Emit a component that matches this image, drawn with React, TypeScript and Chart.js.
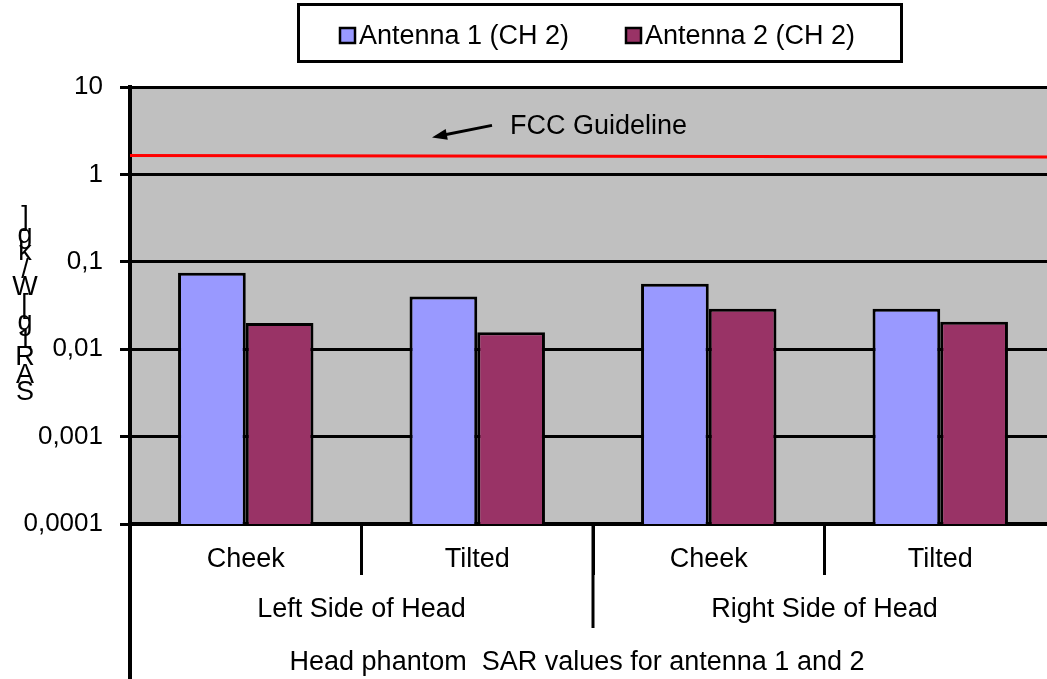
import React, { useEffect, useRef } from "react";
import { Chart, registerables } from "chart.js";

Chart.register(...registerables);

// ---- data ----
const categories = ["Cheek", "Tilted", "Cheek", "Tilted"];
const groups = ["Left Side of Head", "Right Side of Head"];
const groupSpans = [[0, 1], [2, 3]];
const seriesNames = ["Antenna 1 (CH 2)", "Antenna 2 (CH 2)"];
const antenna1 = [0.075, 0.04, 0.056, 0.029];
const antenna2 = [0.02, 0.0156, 0.029, 0.0206];
const yTicks = [0.0001, 0.001, 0.01, 0.1, 1, 10];
const yTickLabels = ["0,0001", "0,001", "0,01", "0,1", "1", "10"];
const fccLine = [1.65, 1.58];
const fccLabel = "FCC Guideline";
const xTitle = "Head phantom  SAR values for antenna 1 and 2";
const yTitleChars = ["S", "A", "R", "1", "g", "[", "W", "/", "k", "g", "]"];

const FONT = '"Liberation Sans", Arial, Helvetica, sans-serif';
const COLORS = ["#9999FF", "#993366"];

export default function App() {
  const ref = useRef<HTMLCanvasElement>(null);

  useEffect(() => {
    const canvas = ref.current!;

    const plotBg = {
      id: "plotBg",
      beforeDraw(chart: any) {
        const { ctx, chartArea: a } = chart;
        ctx.save();
        ctx.fillStyle = "#C0C0C0";
        ctx.fillRect(a.left, a.top, a.right - a.left, a.bottom - a.top);
        ctx.restore();
      },
    };

    const decor = {
      id: "decor",
      afterDatasetsDraw(chart: any) {
        const { ctx, chartArea: a } = chart;
        const ys = chart.scales.y;
        ctx.save();
        ctx.beginPath();
        ctx.rect(a.left, a.top, a.right - a.left, a.bottom - a.top);
        ctx.clip();
        ctx.strokeStyle = "#FF0000";
        ctx.lineWidth = 3;
        ctx.beginPath();
        ctx.moveTo(a.left, ys.getPixelForValue(fccLine[0]));
        ctx.lineTo(a.right, ys.getPixelForValue(fccLine[1]));
        ctx.stroke();
        ctx.restore();
      },
      afterDraw(chart: any) {
        const { ctx, chartArea: a } = chart;
        const xs = chart.scales.x;
        const ys = chart.scales.y;
        ctx.save();
        ctx.fillStyle = "#000";
        ctx.strokeStyle = "#000";

        // long group separator
        const sep = (xs.getPixelForValue(1) + xs.getPixelForValue(2)) / 2;
        ctx.lineWidth = 3;
        ctx.beginPath();
        ctx.moveTo(sep, a.bottom);
        ctx.lineTo(sep, a.bottom + 104);
        ctx.stroke();

        // left axis extension
        ctx.lineWidth = 4;
        ctx.beginPath();
        ctx.moveTo(a.left, a.bottom);
        ctx.lineTo(a.left, chart.height);
        ctx.stroke();

        // group labels
        ctx.font = `27px ${FONT}`;
        ctx.textAlign = "center";
        ctx.textBaseline = "middle";
        groups.forEach((g, i) => {
          const [s, e] = groupSpans[i];
          const cx = (xs.getPixelForValue(s) + xs.getPixelForValue(e)) / 2;
          ctx.fillText(g, cx, a.bottom + 86);
        });

        // x title
        ctx.fillText(xTitle, a.left + 447, a.bottom + 139);

        // y title (stacked upright characters)
        yTitleChars.forEach((c, i) => {
          ctx.fillText(c, 25, 393 - i * 17.5);
        });

        // FCC annotation
        const yTxt = ys.getPixelForValue(fccLine[0]) - 29;
        ctx.textAlign = "left";
        ctx.fillText(fccLabel, a.left + 380, yTxt);
        const tx = a.left + 362, ty = yTxt - 1;
        const hx = a.left + 302, hy = yTxt + 11;
        ctx.lineWidth = 3;
        ctx.beginPath();
        ctx.moveTo(tx, ty);
        ctx.lineTo(hx + 8, hy - 1.6);
        ctx.stroke();
        const ang = Math.atan2(hy - ty, hx - tx);
        ctx.beginPath();
        ctx.moveTo(hx, hy);
        ctx.lineTo(hx - 16 * Math.cos(ang - 0.35), hy - 16 * Math.sin(ang - 0.35));
        ctx.lineTo(hx - 16 * Math.cos(ang + 0.35), hy - 16 * Math.sin(ang + 0.35));
        ctx.closePath();
        ctx.fill();

        // legend
        const lx = 298, ly = 4, lw = 603, lh = 57;
        ctx.fillStyle = "#fff";
        ctx.fillRect(lx, ly, lw, lh);
        ctx.lineWidth = 3;
        ctx.strokeStyle = "#000";
        ctx.strokeRect(lx + 0.5, ly + 0.5, lw, lh);
        const itemX = [340, 626];
        chart.data.datasets.forEach((ds: any, i: number) => {
          const x = itemX[i];
          ctx.fillStyle = ds.backgroundColor;
          ctx.fillRect(x, 28, 15, 15);
          ctx.lineWidth = 2.5;
          ctx.strokeRect(x, 28, 15, 15);
          ctx.fillStyle = "#000";
          ctx.font = `27px ${FONT}`;
          ctx.textAlign = "left";
          ctx.textBaseline = "middle";
          ctx.fillText(ds.label, x + 19, 37);
        });
        ctx.restore();
      },
    };

    const chart = new Chart(canvas, {
      type: "bar",
      data: {
        labels: categories,
        datasets: [
          {
            label: seriesNames[0],
            data: antenna1,
            backgroundColor: COLORS[0],
            borderColor: "#000",
            borderWidth: 3,
          },
          {
            label: seriesNames[1],
            data: antenna2,
            backgroundColor: COLORS[1],
            borderColor: "#000",
            borderWidth: 3,
          },
        ],
      },
      options: {
        responsive: false,
        maintainAspectRatio: false,
        devicePixelRatio: 1,
        animation: false,
        layout: { padding: { left: 20, top: 87, right: 0, bottom: 0 } },
        datasets: { bar: { categoryPercentage: 0.585, barPercentage: 1 } },
        plugins: {
          legend: { display: false },
          title: { display: false },
          tooltip: { enabled: false },
        },
        scales: {
          x: {
            type: "category",
            offset: true,
            grid: {
              display: true,
              offset: true,
              drawOnChartArea: false,
              drawTicks: true,
              tickLength: 51,
              lineWidth: 3,
              color: "#000",
            },
            border: { display: true, color: "#000", width: 4 },
            ticks: {
              color: "#000",
              font: { family: FONT, size: 27 },
              padding: -32,
              maxRotation: 0,
              autoSkip: false,
            },
            afterFit(scale: any) {
              scale.height = 155;
              scale.paddingLeft = 0;
              scale.paddingRight = 0;
            },
          },
          y: {
            type: "logarithmic",
            min: 0.0001,
            max: 10,
            afterBuildTicks(scale: any) {
              scale.ticks = yTicks.map((v) => ({ value: v }));
            },
            grid: {
              color: "#000",
              lineWidth: 3,
              tickLength: 10,
              drawTicks: true,
            },
            border: { display: true, color: "#000", width: 4 },
            ticks: {
              color: "#000",
              font: { family: FONT, size: 26 },
              padding: 17,
              autoSkip: false,
              callback: (_v: any, i: number) => yTickLabels[i],
            },
            afterFit(scale: any) {
              scale.width = 110;
              scale.paddingTop = 0;
              scale.paddingBottom = 0;
            },
          },
        },
      },
      plugins: [plotBg, decor],
    } as any);

    return () => chart.destroy();
  }, []);

  return (
    <div
      style={{
        position: "fixed",
        left: 0,
        top: 0,
        width: 1047,
        height: 679,
        overflow: "hidden",
        background: "#fff",
      }}
    >
      <canvas ref={ref} width={1056} height={679} style={{ display: "block" }} />
    </div>
  );
}
